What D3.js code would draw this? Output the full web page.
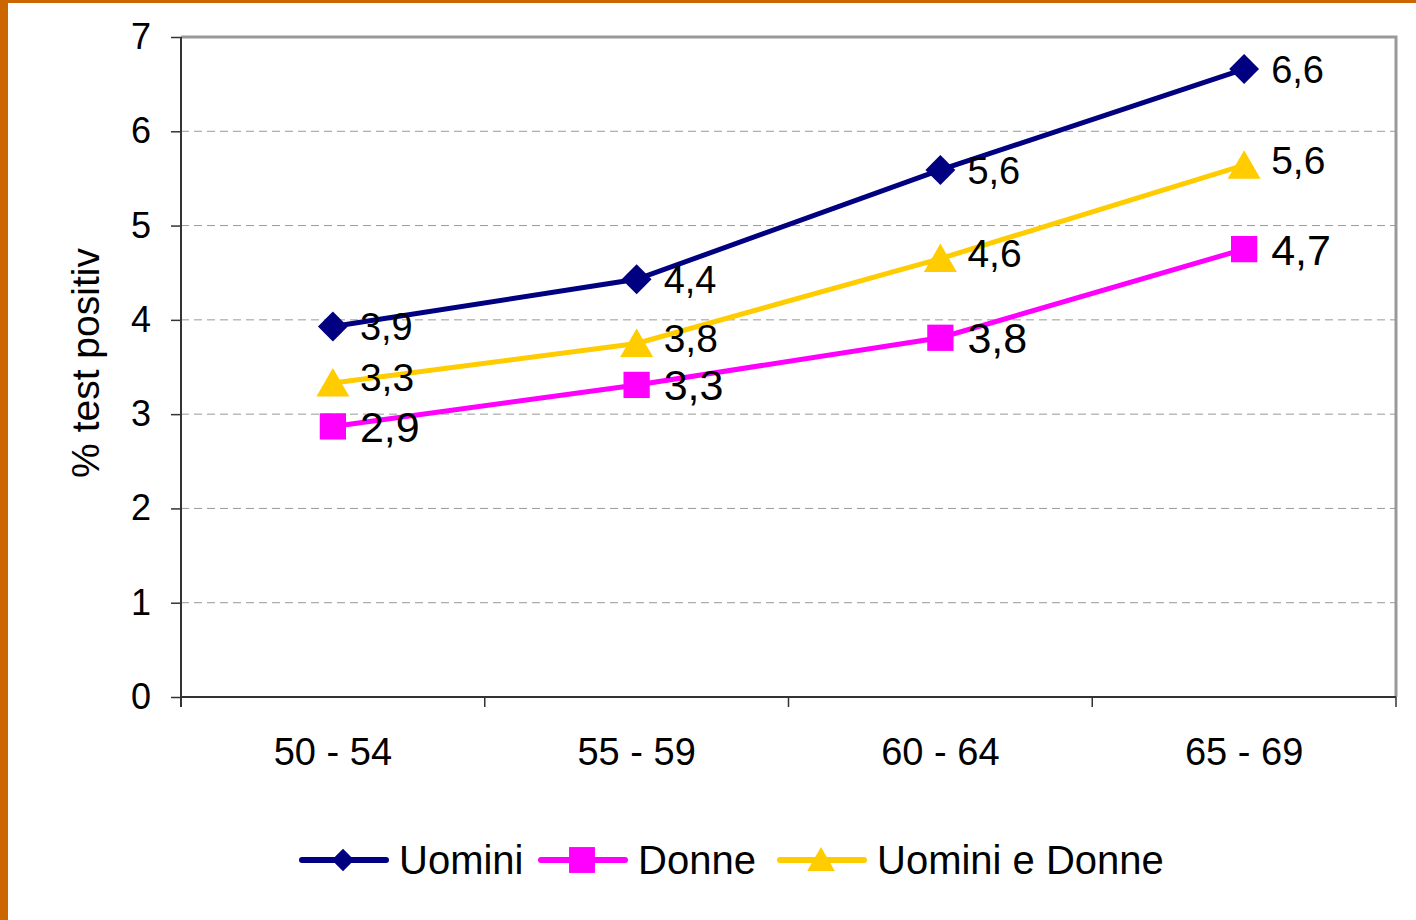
<!DOCTYPE html>
<html>
<head>
<meta charset="utf-8">
<script src="https://cdn.jsdelivr.net/npm/d3@7"></script>
<style>
  body { margin: 0; background: #fff; }
  svg { display: block; font-family: Arial, "Liberation Sans", sans-serif; }
</style>
</head>
<body>
<svg id="chart" width="1416" height="920"></svg>
<script>
// data
var ageGroups = ["50 - 54", "55 - 59", "60 - 64", "65 - 69"];
var uomini = [3.93, 4.43, 5.59, 6.66];
var donne = [2.87, 3.31, 3.81, 4.75];
var uominiEDonne = [3.33, 3.75, 4.65, 5.64];
var uominiLabels = ["3,9", "4,4", "5,6", "6,6"];
var donneLabels = ["2,9", "3,3", "3,8", "4,7"];
var entrambiLabels = ["3,3", "3,8", "4,6", "5,6"];
var yTicks = [0, 1, 2, 3, 4, 5, 6, 7];

var series = [
    {name: "Uomini", values: uomini, labels: uominiLabels, color: "#000080", symbol: d3.symbolDiamond2, size: 570, legendSize: 320, fsize: 38, dy: 4},
    {name: "Donne", values: donne, labels: donneLabels, color: "#FF00FF", symbol: d3.symbolSquare, size: 690, legendSize: 670, fsize: 43, dy: 4},
    {name: "Uomini e Donne", values: uominiEDonne, labels: entrambiLabels, color: "#FFCC00", symbol: d3.symbolTriangle, size: 470, legendSize: 330, fsize: 39, dy: -2}
];

var svg = d3.select("svg#chart");

// orange frame on top and left
svg.append("rect").attr("x", 0).attr("y", 0).attr("width", 1416).attr("height", 3).attr("fill", "#CC6600");
svg.append("rect").attr("x", 0).attr("y", 0).attr("width", 8).attr("height", 920).attr("fill", "#CC6600");

var margin = {top: 37, left: 181, right: 20, bottom: 223};
var plotWidth = 1416 - margin.left - margin.right;
var plotHeight = 920 - margin.top - margin.bottom;

var x = d3.scaleBand().domain(ageGroups).range([0, plotWidth]);
var y = d3.scaleLinear().domain([0, 7]).range([plotHeight, 0]);

var plot = svg.append("g").attr("transform", "translate(" + margin.left + "," + margin.top + ")");

// gridlines
plot.append("g")
    .selectAll("line")
    .data(yTicks.filter(function(t) { return t > 0 && t < 7; }))
    .enter().append("line")
    .attr("x1", 0).attr("x2", plotWidth)
    .attr("y1", function(d) { return y(d); })
    .attr("y2", function(d) { return y(d); })
    .attr("stroke", "#999999")
    .attr("stroke-width", 1)
    .attr("stroke-dasharray", "8,5");

// top and right border
plot.append("path")
    .attr("d", "M0,0H" + plotWidth + "V" + plotHeight)
    .attr("fill", "none")
    .attr("stroke", "#999999")
    .attr("stroke-width", 3);

// y axis
var yAxis = d3.axisLeft(y).tickValues(yTicks).tickFormat(d3.format("d")).tickSize(10).tickPadding(20);
var yGroup = plot.append("g").call(yAxis);
yGroup.select(".domain").remove();
yGroup.append("line").attr("x1", 0).attr("x2", 0).attr("y1", 0).attr("y2", plotHeight + 10)
    .attr("stroke", "#333").attr("stroke-width", 2);
yGroup.selectAll(".tick line").attr("stroke", "#333").attr("stroke-width", 1.5);
yGroup.selectAll(".tick text").style("font-size", "36px").attr("fill", "#000")
    .style("font-family", "Arial, 'Liberation Sans', sans-serif");

// x axis: ticks at band edges
var xGroup = plot.append("g").attr("transform", "translate(0," + plotHeight + ")");
xGroup.append("line").attr("x1", 0).attr("x2", plotWidth).attr("stroke", "#333").attr("stroke-width", 2);
var edges = ageGroups.map(function(g) { return x(g); }).concat([plotWidth]);
xGroup.selectAll("line.edge").data(edges).enter().append("line")
    .attr("class", "edge")
    .attr("x1", function(d) { return d; }).attr("x2", function(d) { return d; })
    .attr("y1", 0).attr("y2", 10)
    .attr("stroke", "#333").attr("stroke-width", 1.5);
xGroup.selectAll("text").data(ageGroups).enter().append("text")
    .attr("x", function(d) { return x(d) + x.bandwidth() / 2; })
    .attr("y", 68)
    .attr("text-anchor", "middle")
    .style("font-size", "38px")
    .text(function(d) { return d; });

// y axis title
svg.append("text")
    .attr("transform", "translate(99,363) rotate(-90)")
    .attr("text-anchor", "middle")
    .style("font-size", "39px")
    .text("% test positiv");

var cx = function(i) { return x(ageGroups[i]) + x.bandwidth() / 2; };

var line = d3.line()
    .x(function(d, i) { return cx(i); })
    .y(function(d) { return y(d); });

// draw back to front: yellow, magenta, navy
[2, 1, 0].forEach(function(k) {
    var s = series[k];
    plot.append("path")
        .datum(s.values)
        .attr("d", line)
        .attr("fill", "none")
        .attr("stroke", s.color)
        .attr("stroke-width", 5);
});

series.forEach(function(s) {
    var g = plot.append("g");
    g.selectAll("path.pt").data(s.values).enter().append("path")
        .attr("class", "pt")
        .attr("d", d3.symbol().type(s.symbol).size(s.size))
        .attr("transform", function(d, i) {
            var off = s.symbol === d3.symbolTriangle ? 4 : 0;
            return "translate(" + cx(i) + "," + (y(d) + off) + ")";
        })
        .attr("fill", s.color);
    g.selectAll("text").data(s.values).enter().append("text")
        .attr("x", function(d, i) { return cx(i) + 27; })
        .attr("y", function(d) { return y(d) + s.dy; })
        .attr("dominant-baseline", "middle")
        .style("font-size", s.fsize + "px")
        .text(function(d, i) { return s.labels[i]; });
});

// legend
var legendX = [300, 539, 778];
var legend = svg.append("g").attr("transform", "translate(0,860)");
series.forEach(function(s, i) {
    var lg = legend.append("g").attr("transform", "translate(" + legendX[i] + ",0)");
    lg.append("line").attr("x1", 2).attr("x2", 86).attr("y1", 0).attr("y2", 0)
        .attr("stroke", s.color).attr("stroke-width", 6).attr("stroke-linecap", "round");
    lg.append("path")
        .attr("d", d3.symbol().type(s.symbol).size(s.legendSize))
        .attr("transform", "translate(43," + (s.symbol === d3.symbolTriangle ? 3 : 0) + ")")
        .attr("fill", s.color);
    lg.append("text")
        .attr("x", 99)
        .attr("y", 3)
        .attr("dominant-baseline", "middle")
        .style("font-size", "40px")
        .text(s.name);
});
</script>
</body>
</html>
